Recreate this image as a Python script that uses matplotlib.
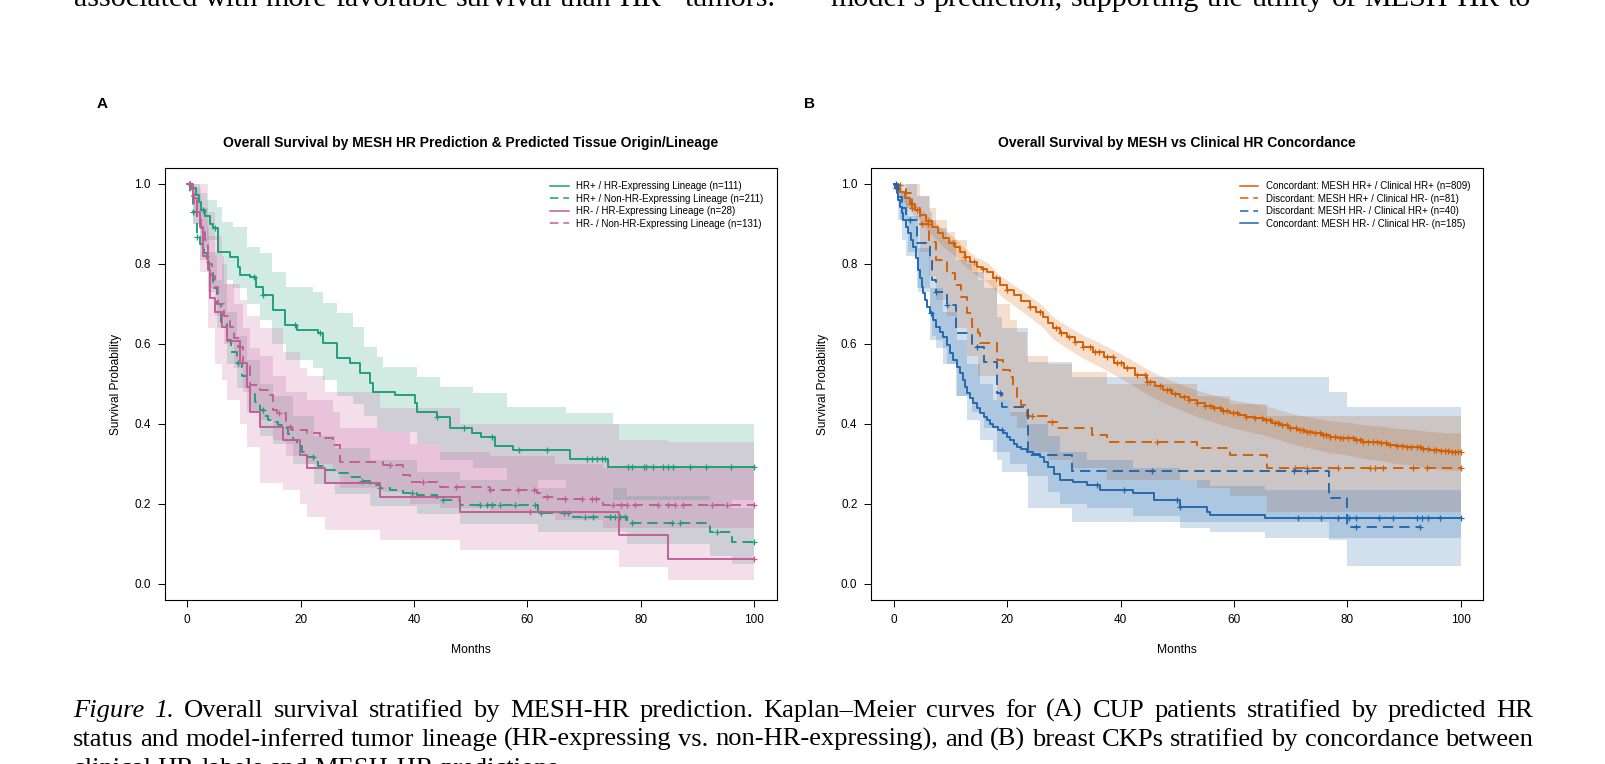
import numpy as np
import matplotlib
matplotlib.use("Agg")
import matplotlib.pyplot as plt
from matplotlib.lines import Line2D
from matplotlib.transforms import IdentityTransform

# ---------------- Panel A: CUP patients ----------------
# HR+ / HR-Expressing Lineage (n=111)
gs_t = [0, 0.8, 1.5, 2.0, 2.5, 3.2, 4.0, 4.6, 5.5, 7.5, 9.0, 9.3, 11.1, 12.2, 13.4, 15.2, 17.2, 19.3,
        23.1, 24.0, 26.4, 28.7, 30.5, 32.2, 32.8, 36.7, 40.2, 40.5, 44.0, 46.4, 50.2, 51.9, 54.3, 57.4, 67.5, 74.3]
gs_s = [1.0, 0.99, 0.972, 0.955, 0.935, 0.92, 0.90, 0.889, 0.831, 0.818, 0.793, 0.772, 0.768, 0.743, 0.722,
        0.685, 0.648, 0.635, 0.627, 0.602, 0.564, 0.552, 0.527, 0.502, 0.481, 0.472, 0.452, 0.431, 0.418,
        0.389, 0.377, 0.367, 0.345, 0.335, 0.312, 0.293]
gs_c = [0.3, 2.8, 4.9, 11.7, 13.4, 19.0, 23.5, 44.0, 48.8, 53.8, 58.6, 63.4, 70.5, 71.4, 72.3, 73.2, 73.7,
        77.8, 78.4, 80.5, 81.0, 82.2, 84.0, 84.9, 85.7, 88.7, 91.6, 96.0, 100.0]
gs_bt = [0, 1.0, 2.2, 3.4, 5.2, 6.1, 8.1, 10.5, 12.8, 15.0, 17.5, 22.2, 24.0, 26.4, 29.3, 31.1, 33.4, 34.6,
         40.5, 44.6, 50.5, 56.4, 66.9, 75.2, 100]
gs_up = [1.0, 1.0, 0.977, 0.96, 0.943, 0.906, 0.893, 0.843, 0.827, 0.78, 0.743, 0.731, 0.702, 0.677, 0.643,
         0.593, 0.568, 0.543, 0.518, 0.493, 0.477, 0.443, 0.427, 0.40, 0.40]
gs_lo = [1.0, 0.97, 0.89, 0.86, 0.82, 0.76, 0.74, 0.70, 0.66, 0.60, 0.56, 0.54, 0.51, 0.47, 0.45, 0.42,
         0.39, 0.38, 0.35, 0.31, 0.29, 0.26, 0.24, 0.21, 0.21]

# HR+ / Non-HR-Expressing Lineage (n=211)
gd_t = [0, 0.5, 1.0, 1.7, 2.3, 2.9, 3.4, 3.9, 4.5, 5.2, 6.0, 6.95, 7.8, 8.7, 9.6, 10.5, 11.1, 12.0, 12.8,
        13.5, 14.3, 15.2, 16.0, 16.9, 17.8, 18.7, 19.4, 20.2, 21.2, 22.3, 23.1, 24.0, 26.0, 28.7, 30.4, 32.2,
        34.0, 35.8, 38.0, 40.5, 44.0, 48.1, 61.9, 68.1, 77.5, 92.2, 96.1]
gd_s = [1.0, 0.97, 0.93, 0.868, 0.85, 0.827, 0.805, 0.785, 0.74, 0.70, 0.655, 0.61, 0.58, 0.552, 0.52,
        0.493, 0.477, 0.455, 0.435, 0.42, 0.41, 0.406, 0.397, 0.389, 0.375, 0.36, 0.345, 0.331, 0.318, 0.306,
        0.295, 0.285, 0.277, 0.268, 0.258, 0.2475, 0.24, 0.235, 0.228, 0.2225, 0.21, 0.1975, 0.177, 0.168,
        0.152, 0.131, 0.106]
gd_c = [1.06, 1.7, 8.9, 13.4, 22.2, 30.8, 34.0, 39.6, 45.2, 51.6, 52.8, 53.7, 55.2, 57.8, 61.4, 62.5, 66.4,
        67.2, 70.2, 71.6, 74.6, 75.5, 76.4, 77.2, 78.4, 85.5, 86.9, 93.4, 100.0]
gd_bt = [0, 1.0, 2.3, 3.9, 5.2, 6.95, 8.7, 10.5, 12.8, 15.2, 18.7, 22.3, 26.0, 32.2, 40.5, 48.1, 61.9,
         77.5, 92.2, 96.1, 100]
gd_up = [1.0, 0.96, 0.89, 0.83, 0.76, 0.68, 0.62, 0.56, 0.50, 0.47, 0.42, 0.37, 0.34, 0.31, 0.28, 0.26,
         0.24, 0.22, 0.21, 0.19, 0.19]
gd_lo = [1.0, 0.90, 0.81, 0.74, 0.64, 0.55, 0.49, 0.43, 0.37, 0.35, 0.30, 0.25, 0.225, 0.195, 0.175, 0.15,
         0.13, 0.10, 0.07, 0.05, 0.05]

# HR- / HR-Expressing Lineage (n=28)
ps_t = [0, 1.0, 1.65, 2.2, 2.8, 3.7, 4.0, 4.9, 6.1, 6.95, 9.3, 10.5, 11.1, 12.8, 16.9, 19.9, 21.1, 24.3,
        34.0, 48.1, 76.1, 84.9]
ps_s = [1.0, 0.964, 0.929, 0.893, 0.821, 0.786, 0.714, 0.679, 0.643, 0.607, 0.552, 0.493, 0.431, 0.393,
        0.36, 0.3225, 0.289, 0.252, 0.217, 0.181, 0.1225, 0.062]
ps_c = [0.4, 3.3, 60.5, 100.0]
ps_bt = [0, 1.0, 2.2, 3.7, 4.9, 6.1, 6.95, 9.3, 10.5, 12.8, 16.9, 19.9, 21.1, 24.3, 34.0, 48.1, 76.1, 84.9, 100]
ps_up = [1.0, 1.0, 1.0, 0.93, 0.87, 0.80, 0.75, 0.71, 0.67, 0.64, 0.58, 0.54, 0.52, 0.48, 0.44, 0.40,
         0.36, 0.356, 0.356]
ps_lo = [1.0, 0.90, 0.78, 0.64, 0.55, 0.51, 0.46, 0.40, 0.343, 0.252, 0.235, 0.20, 0.168, 0.135, 0.11,
         0.085, 0.043, 0.01, 0.01]

# HR- / Non-HR-Expressing Lineage (n=131)
pd_t = [0, 0.6, 1.2, 1.8, 2.5, 3.1, 3.7, 4.3, 4.9, 5.5, 6.5, 7.5, 8.3, 9.0, 9.9, 11.1, 12.8, 14.6, 15.2,
        15.8, 17.5, 18.4, 21.1, 23.4, 25.8, 26.9, 34.6, 38.1, 39.3, 44.6, 53.4, 61.7, 62.8, 64.9, 73.4]
pd_s = [1.0, 0.975, 0.95, 0.92, 0.89, 0.86, 0.80, 0.77, 0.743, 0.70, 0.67, 0.643, 0.615, 0.593, 0.552,
        0.4975, 0.485, 0.4725, 0.435, 0.427, 0.393, 0.385, 0.377, 0.364, 0.3475, 0.306, 0.2975, 0.2725,
        0.256, 0.243, 0.235, 0.227, 0.218, 0.2125, 0.1975]
pd_c = [0.5, 16.1, 18.1, 35.8, 41.6, 47.5, 53.4, 58.4, 61.1, 63.4, 66.6, 69.6, 71.4, 72.2, 75.2, 76.6,
        77.5, 79.0, 83.1, 84.9, 86.1, 87.5, 92.5, 95.2, 100.0]
pd_bt = [0, 1.2, 2.5, 3.7, 4.9, 6.5, 8.3, 9.9, 11.1, 12.8, 15.2, 17.5, 21.1, 25.8, 26.9, 34.6, 39.3, 44.6,
         53.4, 64.9, 73.4, 100]
pd_up = [1.0, 0.99, 0.94, 0.87, 0.82, 0.75, 0.70, 0.64, 0.59, 0.57, 0.52, 0.48, 0.46, 0.43, 0.39, 0.38,
         0.35, 0.33, 0.32, 0.30, 0.29, 0.29]
pd_lo = [1.0, 0.92, 0.84, 0.73, 0.67, 0.60, 0.54, 0.48, 0.43, 0.41, 0.36, 0.32, 0.30, 0.28, 0.24, 0.23,
         0.20, 0.19, 0.18, 0.16, 0.14, 0.14]

labels_a = ["HR+ / HR-Expressing Lineage (n=111)", "HR+ / Non-HR-Expressing Lineage (n=211)",
            "HR- / HR-Expressing Lineage (n=28)", "HR- / Non-HR-Expressing Lineage (n=131)"]

# ---------------- Panel B: breast CKPs ----------------
# Concordant: MESH HR+ / Clinical HR+ (n=809)
os_t = [0, 0.2, 1.06, 2.0, 2.8, 3.7, 4.6, 5.6, 6.65, 7.7, 8.7, 9.7, 10.8, 11.6, 12.5, 13.5, 14.6, 15.5,
        16.4, 17.5, 18.7, 19.9, 21.1, 22.5, 24.0, 25.1, 26.3, 27.2, 28.1, 29.3, 30.5, 31.9, 33.4, 35.2, 37.0,
        38.8, 40.5, 42.5, 44.6, 46.0, 47.5, 49.0, 50.5, 52.0, 53.4, 54.8, 56.3, 57.8, 59.3, 60.8, 62.2, 63.7,
        65.2, 66.7, 68.1, 69.6, 71.1, 72.5, 74.0, 75.5, 76.9, 78.4, 79.9, 81.3, 82.8, 84.3, 85.8, 87.2, 88.7,
        90.2, 91.6, 93.1, 94.6, 96.3, 98.1]
os_s = [1.0, 0.9975, 0.98, 0.965, 0.95, 0.936, 0.9225, 0.908, 0.893, 0.878, 0.864, 0.853, 0.843, 0.830,
        0.818, 0.805, 0.793, 0.787, 0.781, 0.764, 0.7475, 0.735, 0.7225, 0.708, 0.693, 0.68, 0.668, 0.653,
        0.639, 0.628, 0.618, 0.605, 0.593, 0.58, 0.568, 0.553, 0.541, 0.523, 0.506, 0.495, 0.485, 0.476,
        0.468, 0.46, 0.452, 0.445, 0.439, 0.433, 0.427, 0.422, 0.418, 0.414, 0.41, 0.403, 0.3975, 0.391,
        0.385, 0.381, 0.377, 0.372, 0.368, 0.366, 0.364, 0.36, 0.356, 0.354, 0.352, 0.348, 0.345, 0.343,
        0.342, 0.338, 0.335, 0.333, 0.331]
os_c = [0.3, 1.0, 3.0, 4.0, 6.0, 10.5, 12.5, 14.2, 15.7, 18.0, 20.0, 24.0, 25.8, 28.6, 29.5, 30.8, 32.0,
        33.4, 34.6, 35.5, 36.2, 37.5, 38.7, 39.4, 40.1, 41.2, 42.8, 44.3, 44.6, 45.2, 47.0, 48.1, 48.7,
        49.6, 51.1, 52.0, 53.4, 54.9, 55.8, 56.4, 57.5, 58.1, 58.7, 59.9, 60.5, 62.2, 63.7, 64.9, 65.7,
        66.3, 67.2, 67.8, 68.4, 69.3, 69.9, 71.0, 71.6, 72.2, 72.8, 73.4, 74.3, 75.2, 75.7, 76.3, 76.9,
        77.8, 78.7, 79.3, 80.1, 81.0, 81.6, 82.2, 82.8, 83.7, 84.6, 85.2, 86.0, 86.9, 87.5, 88.7, 89.6,
        90.5, 91.3, 92.2, 92.8, 93.4, 94.3, 95.2, 95.7, 96.6, 97.2, 97.8, 98.4, 99.0, 99.6, 100.0]
os_bt = [0, 1.06, 2.8, 4.6, 6.65, 8.7, 10.8, 12.5, 14.6, 16.4, 18.7, 21.1, 24.0, 26.3, 28.1, 30.5, 33.4,
         37.0, 40.5, 44.6, 47.5, 50.5, 53.4, 56.3, 59.3, 62.2, 65.2, 68.1, 71.1, 74.0, 76.9, 79.9, 82.8,
         85.8, 88.7, 91.6, 94.6, 98.1, 100]
os_up = [1.0, 0.99, 0.965, 0.94, 0.912, 0.885, 0.865, 0.84, 0.816, 0.805, 0.772, 0.748, 0.72, 0.695,
         0.667, 0.646, 0.622, 0.598, 0.572, 0.538, 0.517, 0.50, 0.485, 0.473, 0.462, 0.454, 0.447, 0.435,
         0.423, 0.416, 0.408, 0.405, 0.398, 0.395, 0.389, 0.387, 0.381, 0.378, 0.378]
os_lo = [1.0, 0.97, 0.935, 0.905, 0.873, 0.843, 0.82, 0.795, 0.77, 0.757, 0.722, 0.697, 0.667, 0.641,
         0.612, 0.59, 0.564, 0.538, 0.51, 0.475, 0.453, 0.436, 0.419, 0.405, 0.392, 0.382, 0.373, 0.36,
         0.347, 0.338, 0.328, 0.323, 0.314, 0.309, 0.301, 0.297, 0.289, 0.284, 0.284]

# Discordant: MESH HR+ / Clinical HR- (n=81)
od_t = [0, 0.75, 2.2, 3.1, 4.6, 6.1, 7.5, 9.3, 10.8, 11.9, 12.8, 13.7, 14.9, 15.2, 18.1, 19.3, 20.5, 21.0,
        21.7, 22.5, 23.4, 27.2, 29.0, 34.9, 37.5, 53.4, 59.3, 65.8]
od_s = [1.0, 0.988, 0.977, 0.94, 0.90, 0.856, 0.81, 0.777, 0.7475, 0.718, 0.677, 0.643, 0.627, 0.602,
        0.56, 0.535, 0.518, 0.493, 0.468, 0.4475, 0.42, 0.406, 0.389, 0.3725, 0.356, 0.339, 0.3225, 0.289]
od_c = [0.75, 3.1, 4.9, 6.05, 24.3, 27.8, 46.4, 70.8, 72.8, 78.4, 84.0, 84.9, 86.3, 91.6, 94.0, 100.0]
od_bt = [0, 2.2, 4.6, 6.1, 7.5, 9.3, 10.8, 12.8, 14.9, 18.1, 20.5, 21.7, 23.4, 27.2, 31.5, 37.5, 53.4,
         59.3, 65.8, 100]
od_up = [1.0, 1.0, 0.97, 0.94, 0.91, 0.88, 0.86, 0.80, 0.76, 0.70, 0.66, 0.63, 0.57, 0.55, 0.53, 0.50,
         0.47, 0.45, 0.42, 0.42]
od_lo = [1.0, 0.94, 0.83, 0.77, 0.71, 0.67, 0.64, 0.57, 0.52, 0.46, 0.42, 0.39, 0.33, 0.31, 0.29, 0.26,
         0.24, 0.22, 0.18, 0.18]

# Discordant: MESH HR- / Clinical HR+ (n=40)
bd_t = [0, 0.77, 1.35, 2.2, 4.1, 6.35, 6.65, 7.5, 9.3, 11.0, 13.7, 15.8, 18.1, 19.0, 23.7, 24.0, 31.5,
        76.8, 80.0]
bd_s = [1.0, 0.968, 0.939, 0.91, 0.852, 0.81, 0.76, 0.731, 0.6975, 0.627, 0.593, 0.556, 0.477, 0.443,
        0.331, 0.3225, 0.283, 0.214, 0.143]
bd_end = 92.8
bd_c = [0.3, 2.8, 7.5, 9.3, 14.6, 18.7, 45.5, 70.5, 72.8, 81.6, 92.8]
bd_bt = [0, 0.77, 1.35, 2.2, 4.1, 6.35, 6.65, 7.5, 9.3, 11.0, 13.7, 15.8, 18.1, 19.0, 23.7, 31.5, 76.8,
         80.0, 100]
bd_up = [1.0, 1.0, 1.0, 1.0, 0.97, 0.93, 0.91, 0.89, 0.86, 0.81, 0.78, 0.74, 0.668, 0.64, 0.556, 0.518,
         0.48, 0.443, 0.443]
bd_lo = [1.0, 0.91, 0.86, 0.82, 0.74, 0.68, 0.62, 0.59, 0.55, 0.47, 0.43, 0.39, 0.31, 0.28, 0.19, 0.155,
         0.11, 0.045, 0.045]

# Concordant: MESH HR- / Clinical HR- (n=185)
bs_t = [0, 0.25, 0.47, 0.75, 1.06, 1.35, 1.65, 2.1, 2.5, 2.95, 3.4, 3.85, 4.3, 4.6, 4.9, 5.2, 5.5, 5.9,
        6.35, 6.9, 7.5, 8.1, 8.7, 9.3, 9.9, 10.5, 11.1, 11.6, 12.2, 12.5, 12.8, 13.4, 14.0, 14.6, 15.2, 15.8,
        16.4, 16.9, 17.5, 18.4, 19.3, 19.9, 20.5, 21.1, 21.7, 22.5, 23.4, 24.6, 25.8, 26.5, 27.2, 28.2, 29.3,
        31.6, 34.0, 36.4, 42.2, 45.8, 50.5, 55.2, 55.8, 65.5]
bs_s = [1.0, 0.99, 0.977, 0.96, 0.943, 0.927, 0.91, 0.893, 0.877, 0.86, 0.843, 0.815, 0.785, 0.764, 0.743,
        0.727, 0.71, 0.693, 0.677, 0.66, 0.643, 0.63, 0.618, 0.597, 0.577, 0.56, 0.543, 0.527, 0.51, 0.493,
        0.477, 0.465, 0.452, 0.44, 0.427, 0.418, 0.41, 0.40, 0.393, 0.385, 0.377, 0.368, 0.36, 0.351, 0.343,
        0.337, 0.331, 0.324, 0.318, 0.305, 0.293, 0.276, 0.26, 0.256, 0.2475, 0.235, 0.227, 0.21, 0.193,
        0.181, 0.1725, 0.164]
bs_c = [0.3, 6.6, 19.0, 35.8, 40.5, 49.9, 50.5, 71.3, 75.4, 78.4, 79.9, 80.2, 81.6, 85.5, 88.1, 92.2,
        93.1, 94.3, 96.4, 100.0]
bs_bt = [0, 1.06, 2.5, 4.3, 6.35, 8.7, 11.1, 12.8, 15.2, 17.5, 20.5, 23.4, 27.2, 29.3, 34.0, 42.2, 50.5,
         55.8, 65.5, 100]
bs_up = [1.0, 0.98, 0.92, 0.84, 0.74, 0.68, 0.61, 0.55, 0.50, 0.46, 0.43, 0.40, 0.37, 0.33, 0.31, 0.29,
         0.26, 0.245, 0.235, 0.235]
bs_lo = [1.0, 0.91, 0.83, 0.73, 0.61, 0.55, 0.47, 0.41, 0.36, 0.33, 0.30, 0.27, 0.23, 0.20, 0.19, 0.17,
         0.14, 0.13, 0.115, 0.115]

labels_b = ["Concordant: MESH HR+ / Clinical HR+ (n=809)", "Discordant: MESH HR+ / Clinical HR- (n=81)",
            "Discordant: MESH HR- / Clinical HR+ (n=40)", "Concordant: MESH HR- / Clinical HR- (n=185)"]

GREEN = "#1B9E77"
PINK = "#C45A98"
ORANGE = "#D55E00"
BLUE = "#2166AC"
DASH = (0, (5.5, 3.2))

W, H = 1606, 764
plt.rcParams["font.family"] = ["Liberation Sans", "DejaVu Sans"]
fig = plt.figure(figsize=(W / 100, H / 100), dpi=100)


def band(ax, bt, lo, up, color, step="post"):
    ax.fill_between(bt, lo, up, step=step, color=color, alpha=0.2, lw=0)


def curve(ax, t, s, cens, color, ls, t_end=100.0):
    x = list(t) + [t_end]
    y = list(s) + [s[-1]]
    ax.step(x, y, where="post", color=color, lw=1.35, ls=ls)
    idx = np.searchsorted(t, cens, side="right") - 1
    ax.plot(cens, np.asarray(s)[idx], ls="none", marker="+", ms=5, mew=0.9, color=color)


def setup(ax, title):
    ax.set_xlim(-4, 104)
    ax.set_ylim(-0.04, 1.04)
    ax.set_xticks([0, 20, 40, 60, 80, 100])
    ax.set_yticks([0.0, 0.2, 0.4, 0.6, 0.8, 1.0])
    ax.set_yticklabels(["0.0", "0.2", "0.4", "0.6", "0.8", "1.0"])
    ax.tick_params(direction="out", length=5, width=0.7, labelsize=8.5, pad=5)
    for sp in ax.spines.values():
        sp.set_linewidth(0.8)
    ax.set_title(title, fontsize=10, fontweight="bold", pad=15)
    ax.set_xlabel("Months", fontsize=8.7, labelpad=13)
    ax.set_ylabel("Survival Probability", fontsize=8.6, labelpad=8.5)


def legend(ax, colors, styles, labels):
    handles = [Line2D([], [], color=c, ls=s, lw=1.1) for c, s in zip(colors, styles)]
    ax.legend(handles, labels, loc="upper right", bbox_to_anchor=(0.985, 0.978), frameon=False,
              fontsize=7, handlelength=1.9, handletextpad=0.8, labelspacing=0.25, borderaxespad=0)


# axes positions in pixels: left 164.6 / 871.3, width 612.1, top 168, bottom 600
axA = fig.add_axes([164.6 / W, (H - 600) / H, 612.1 / W, 432 / H])
axB = fig.add_axes([871.3 / W, (H - 600) / H, 612.1 / W, 432 / H])

band(axA, gs_bt, gs_lo, gs_up, GREEN)
band(axA, gd_bt, gd_lo, gd_up, GREEN)
band(axA, ps_bt, ps_lo, ps_up, PINK)
band(axA, pd_bt, pd_lo, pd_up, PINK)
curve(axA, gs_t, gs_s, gs_c, GREEN, "-")
curve(axA, gd_t, gd_s, gd_c, GREEN, DASH)
curve(axA, ps_t, ps_s, ps_c, PINK, "-")
curve(axA, pd_t, pd_s, pd_c, PINK, DASH)
setup(axA, "Overall Survival by MESH HR Prediction & Predicted Tissue Origin/Lineage")
legend(axA, [GREEN, GREEN, PINK, PINK], ["-", DASH, "-", DASH], labels_a)

band(axB, os_bt, os_lo, os_up, ORANGE, step=None)
band(axB, od_bt, od_lo, od_up, ORANGE)
band(axB, bd_bt, bd_lo, bd_up, BLUE)
band(axB, bs_bt, bs_lo, bs_up, BLUE)
curve(axB, os_t, os_s, os_c, ORANGE, "-")
curve(axB, od_t, od_s, od_c, ORANGE, DASH)
curve(axB, bd_t, bd_s, bd_c, BLUE, DASH, t_end=bd_end)
curve(axB, bs_t, bs_s, bs_c, BLUE, "-")
setup(axB, "Overall Survival by MESH vs Clinical HR Concordance")
legend(axB, [ORANGE, ORANGE, BLUE, BLUE], ["-", DASH, DASH, "-"], labels_b)

fig.text(102.5 / W, 1 - 104.5 / H, "A", fontsize=11, fontweight="bold", ha="center", va="center")
fig.text(810 / W, 1 - 104.5 / H, "B", fontsize=11, fontweight="bold", ha="center", va="center")

# ---------------- surrounding page text ----------------
renderer = fig.canvas.get_renderer()
SERIF = "Liberation Serif"
BASE = 18.0

top_left = "associated with more favorable survival than HR\u2212 tumors."
top_right = "model\u2019s prediction, supporting the utility of MESH-HR to"
cap1 = [("Figure", "italic"), ("1.", "italic")] + [(w, "normal") for w in
        "Overall survival stratified by MESH-HR prediction. Kaplan\u2013Meier curves for (A) CUP patients stratified by predicted HR".split()]
cap2 = [(w, "normal") for w in
        "status and model-inferred tumor lineage (HR-expressing vs. non-HR-expressing), and (B) breast CKPs stratified by concordance between".split()]
cap3 = "clinical HR labels and MESH-HR predictions."


def words_of(s):
    return [(w, "normal") for w in s.split()]


def fit_size(words, target):
    # size at which the words, set with normal spaces, span the target width
    arts = [fig.text(0, 0, w, fontsize=BASE, family=SERIF, style=st) for w, st in words]
    total = sum(a.get_window_extent(renderer).width for a in arts)
    for a in arts:
        a.remove()
    total += (len(words) - 1) * BASE * 100 / 72 * 0.25
    return BASE * target / total


def put_line(words, x0, x1, ybase, size, justify=True):
    arts = [fig.text(0, 0, w, transform=IdentityTransform(), fontsize=size, family=SERIF,
                     style=st, ha="left", va="baseline") for w, st in words]
    widths = [a.get_window_extent(renderer).width for a in arts]
    gap = (x1 - x0 - sum(widths)) / (len(arts) - 1) if justify else size * 100 / 72 * 0.25
    x = x0
    for a, w in zip(arts, widths):
        a.set_position((x, H - ybase))
        x += w + gap


cap_size = min(fit_size(cap1, 1460), fit_size(cap2, 1460))
top_size = fit_size(words_of(top_left), 702)

put_line(words_of(top_left), 74, 776, 6.5, top_size, justify=False)
put_line(words_of(top_right), 830, 1531, 6.5, top_size)
put_line(cap1, 73, 1533, 717, cap_size)
put_line(cap2, 73, 1533, 746, cap_size)
put_line(words_of(cap3), 73, 1533, 775, cap_size, justify=False)

fig.savefig("out.png", dpi=100)
plt.close(fig)
